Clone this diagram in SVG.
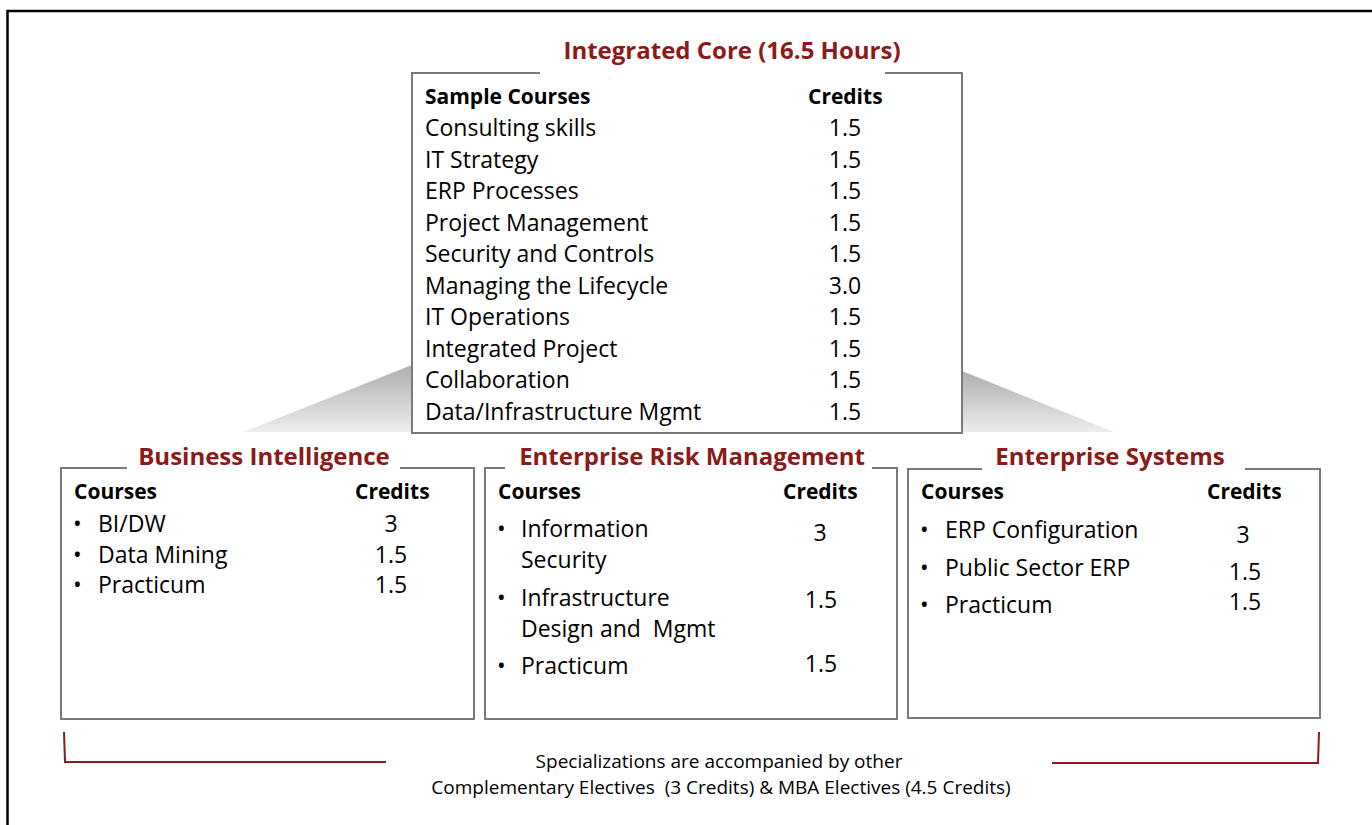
<svg xmlns="http://www.w3.org/2000/svg" width="1372" height="825" viewBox="0 0 1372 825">
<defs>
<linearGradient id="shade" x1="0" y1="0" x2="0" y2="1">
<stop offset="0" stop-color="#aeaeae"/>
<stop offset="1" stop-color="#ededed"/>
</linearGradient>
<style>
text{font-family:"Open Sans","Liberation Sans",sans-serif;fill:#000}
.t{font-size:24px;font-weight:bold;fill:#8b1a1a;text-anchor:middle}
.h{font-size:21px;font-weight:bold}
.b{font-size:23px}
.c{font-size:23px;text-anchor:middle}
.f{font-size:19px;text-anchor:middle}
.box{fill:none;stroke:#7a7a7a;stroke-width:2}
.br{fill:none;stroke:#8b1a1a;stroke-width:2}
</style>
</defs>
<rect x="0" y="0" width="1372" height="825" fill="#fff"/>
<rect x="7.5" y="11" width="1420" height="900" fill="none" stroke="#000" stroke-width="2.5"/>
<g id="connectors">
<polygon points="412,365 412,432 243,432" fill="url(#shade)"/>
<polygon points="962,371 962,432 1114,432" fill="url(#shade)"/>
<path class="br" d="M64,732 L65,762 L386,762"/>
<path class="br" d="M1052,763 L1318,763 L1319,732"/>
</g>
<g id="core">
<path class="box" d="M540,73 L412,73 L412,433 L962,433 L962,73 L885,73"/>
<text class="t" x="732" y="59">Integrated Core (16.5 Hours)</text>
<text class="h" x="425" y="104">Sample Courses</text>
<text class="h" x="808" y="104">Credits</text>
<text class="b" x="425" y="136">Consulting skills</text>
<text class="b" x="425" y="168">IT Strategy</text>
<text class="b" x="425" y="199">ERP Processes</text>
<text class="b" x="425" y="231">Project Management</text>
<text class="b" x="425" y="262">Security and Controls</text>
<text class="b" x="425" y="294">Managing the Lifecycle</text>
<text class="b" x="425" y="325">IT Operations</text>
<text class="b" x="425" y="357">Integrated Project</text>
<text class="b" x="425" y="388">Collaboration</text>
<text class="b" x="425" y="420">Data/Infrastructure Mgmt</text>
<text class="c" x="845" y="136">1.5</text>
<text class="c" x="845" y="168">1.5</text>
<text class="c" x="845" y="199">1.5</text>
<text class="c" x="845" y="231">1.5</text>
<text class="c" x="845" y="262">1.5</text>
<text class="c" x="845" y="294">3.0</text>
<text class="c" x="845" y="325">1.5</text>
<text class="c" x="845" y="357">1.5</text>
<text class="c" x="845" y="388">1.5</text>
<text class="c" x="845" y="420">1.5</text>
</g>
<g id="bi">
<path class="box" d="M127,468 L61,468 L61,719 L474,719 L474,468 L400,468"/>
<text class="t" x="264" y="465">Business Intelligence</text>
<text class="h" x="74" y="499">Courses</text>
<text class="h" x="355" y="499">Credits</text>
<text class="b" x="73" y="532">•</text>
<text class="b" x="98" y="532">BI/DW</text>
<text class="b" x="73" y="563">•</text>
<text class="b" x="98" y="563">Data Mining</text>
<text class="b" x="73" y="593">•</text>
<text class="b" x="98" y="593">Practicum</text>
<text class="c" x="391" y="532">3</text>
<text class="c" x="391" y="563">1.5</text>
<text class="c" x="391" y="593">1.5</text>
</g>
<g id="erm">
<path class="box" d="M505,468 L485,468 L485,719 L897,719 L897,468 L872,468"/>
<text class="t" x="692" y="465">Enterprise Risk Management</text>
<text class="h" x="498" y="499">Courses</text>
<text class="h" x="783" y="499">Credits</text>
<text class="b" x="497" y="537">•</text>
<text class="b" x="521" y="537">Information</text>
<text class="b" x="521" y="568">Security</text>
<text class="b" x="497" y="606">•</text>
<text class="b" x="521" y="606">Infrastructure</text>
<text class="b" x="521" y="637" xml:space="preserve">Design and  Mgmt</text>
<text class="b" x="497" y="674">•</text>
<text class="b" x="521" y="674">Practicum</text>
<text class="c" x="820" y="541">3</text>
<text class="c" x="821" y="608">1.5</text>
<text class="c" x="821" y="672">1.5</text>
</g>
<g id="es">
<path class="box" d="M982,469 L908,469 L908,718 L1320,718 L1320,469 L1245,469"/>
<text class="t" x="1110" y="465">Enterprise Systems</text>
<text class="h" x="921" y="499">Courses</text>
<text class="h" x="1207" y="499">Credits</text>
<text class="b" x="920" y="538">•</text>
<text class="b" x="945" y="538">ERP Configuration</text>
<text class="b" x="920" y="576">•</text>
<text class="b" x="945" y="576">Public Sector ERP</text>
<text class="b" x="920" y="613">•</text>
<text class="b" x="945" y="613">Practicum</text>
<text class="c" x="1243" y="543">3</text>
<text class="c" x="1245" y="580">1.5</text>
<text class="c" x="1245" y="610">1.5</text>
</g>
<g id="footer">
<text class="f" x="719" y="768">Specializations are accompanied by other</text>
<text class="f" x="721" y="794" xml:space="preserve">Complementary Electives  (3 Credits) &amp; MBA Electives (4.5 Credits)</text>
</g>
</svg>
